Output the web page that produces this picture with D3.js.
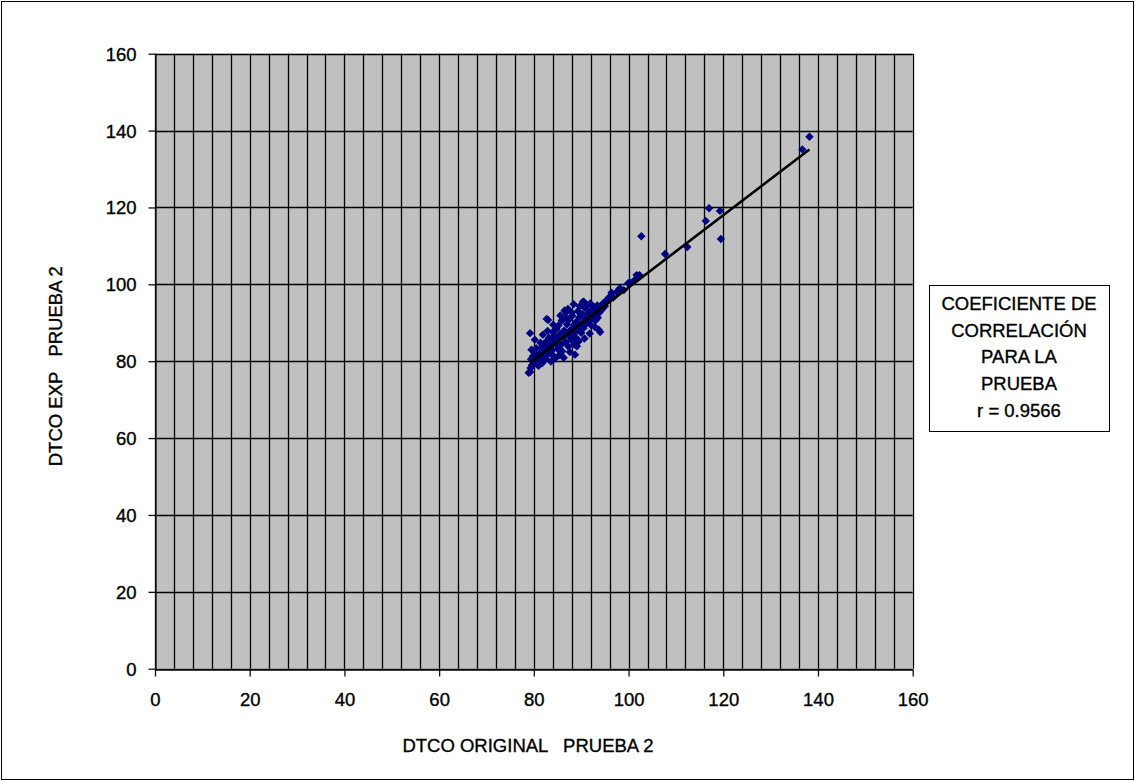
<!DOCTYPE html>
<html>
<head>
<meta charset="utf-8">
<script src="https://cdn.jsdelivr.net/npm/d3@7"></script>
<style>
  body { margin: 0; background: #fff; }
  svg text { font-family: "Liberation Sans", Arial, sans-serif; fill: #000; stroke: #000; stroke-width: 0.35px; }
</style>
</head>
<body>
<div id="chart"></div>
<script>
let dtco_points = [
    [78.9,77.0],[79.2,77.2],[79.3,78.2],[79.6,79.0],[79.4,80.5],[79.8,81.3],[80.1,82.2],[79.5,83.0],[79.2,87.3],
    [80.3,80.0],[80.6,79.2],[81.0,78.8],[80.8,81.0],[81.2,82.0],[80.5,83.4],[81.5,80.3],[81.8,79.5],[82.0,81.5],
    [81.6,83.6],[82.3,82.8],[82.5,80.6],[82.1,84.4],[82.8,83.5],[83.0,81.8],[82.7,85.2],[83.4,84.0],[83.2,86.1],
    [82.7,91.0],[83.0,90.7],[83.8,82.8],[84.2,81.3],[84.5,80.7],[83.9,85.3],[84.4,86.7],[84.0,87.6],[84.6,84.5],
    [85.0,83.2],[85.3,85.8],[84.8,88.4],[85.5,87.0],[85.2,89.3],[85.8,84.3],[86.0,82.6],[86.2,86.2],[85.9,90.6],
    [86.5,93.2],[86.8,92.7],[86.4,88.0],[86.7,85.0],[86.9,87.3],[87.0,89.6],[86.6,91.5],[87.3,83.8],[87.5,86.4],
    [87.4,90.8],[87.8,88.2],[87.9,85.5],[88.1,91.8],[88.3,87.0],[88.0,92.6],[88.5,89.4],[88.7,81.7],[88.6,84.3],
    [88.9,86.1],[89.0,90.3],[89.2,88.0],[89.3,93.0],[89.5,85.2],[89.6,91.4],[89.8,89.2],[90.0,87.4],[90.2,92.3],
    [90.3,90.0],[90.6,95.4],[90.4,95.5],[90.5,88.6],[90.8,93.8],[91.0,91.2],[91.1,89.8],[91.3,94.6],[91.5,92.5],
    [91.6,90.4],[91.9,95.0],[92.0,89.5],[92.2,93.4],[92.4,91.6],[92.6,94.2],[92.8,92.0],[93.0,90.6],[93.2,93.0],
    [93.4,94.5],[93.7,88.2],[94.0,87.6],[93.8,92.6],[94.0,94.0],[94.3,93.3],[94.6,95.0],[95.0,94.3],[95.4,95.9],
    [95.8,96.5],[96.4,97.8],[96.8,96.6],[97.5,98.0],[98.0,98.7],[98.2,99.0],[99.0,98.5],[99.9,100.3],[100.3,100.4],
    [101.2,101.0],[101.7,102.4],[101.9,101.6],[102.3,102.4],[102.7,112.5],[107.7,107.9],[112.4,109.7],[116.3,116.5],
    [117.0,119.8],[119.3,119.1],[119.5,111.8],[136.7,135.1],[138.2,138.4],
    [81.4,84.8],[82.9,87.9],[84.1,89.5],[85.6,91.9],[87.2,93.6],[88.4,94.8],[89.7,94.3],[83.6,79.9],[85.4,81.6],
    [86.3,80.9],[87.6,82.4],[89.1,83.9],[90.7,85.9],[91.8,87.2],[92.9,88.9],[93.5,91.3],[80.2,85.6],[81.9,86.9]
];

// linear trend line ends
let trend_ends = [[79.2, 79.6], [138.2, 135.1]];

let x_ticks = [0, 20, 40, 60, 80, 100, 120, 140, 160];
let y_ticks = [0, 20, 40, 60, 80, 100, 120, 140, 160];
let x_grid = d3.range(0, 161, 4);

let legend_lines = ["COEFICIENTE DE", "CORRELACIÓN", "PARA LA", "PRUEBA", "r = 0.9566"];

let width = 1135, height = 781;
let plot = {left: 155, top: 53.7, right: 912.7, bottom: 668.7};

let svg = d3.select("#chart").append("svg")
    .attr("width", width)
    .attr("height", height);

// outer frame
svg.append("rect")
    .attr("x", 1.5).attr("y", 1.5)
    .attr("width", 1132).attr("height", 778)
    .attr("fill", "#fff")
    .attr("stroke", "#000")
    .attr("stroke-width", 1);

let xScale = d3.scaleLinear().domain([0, 160]).range([plot.left, plot.right]);
let yScale = d3.scaleLinear().domain([0, 160]).range([plot.bottom, plot.top]);

// plot area
svg.append("rect")
    .attr("x", plot.left).attr("y", plot.top)
    .attr("width", plot.right - plot.left)
    .attr("height", plot.bottom - plot.top)
    .attr("fill", "#c0c0c0");

// vertical grid every 4
svg.append("g")
    .selectAll("line")
    .data(x_grid)
    .enter().append("line")
    .attr("x1", d => Math.round(xScale(d)) + 0.5)
    .attr("x2", d => Math.round(xScale(d)) + 0.5)
    .attr("y1", plot.top)
    .attr("y2", plot.bottom)
    .attr("stroke", "#000")
    .attr("stroke-width", 1.3);

// horizontal grid every 20
svg.append("g")
    .selectAll("line")
    .data(y_ticks)
    .enter().append("line")
    .attr("x1", plot.left)
    .attr("x2", plot.right)
    .attr("y1", d => Math.round(yScale(d)) + 0.5)
    .attr("y2", d => Math.round(yScale(d)) + 0.5)
    .attr("stroke", "#000")
    .attr("stroke-width", 1.3);

// axes
let xAxis = svg.append("g")
    .attr("transform", `translate(0,${Math.round(plot.bottom) + 0.5})`)
    .call(d3.axisBottom(xScale).tickValues(x_ticks).tickSize(7).tickPadding(16).tickSizeOuter(0));
let yAxis = svg.append("g")
    .attr("transform", `translate(${Math.round(plot.left) + 0.5},0)`)
    .call(d3.axisLeft(yScale).tickValues(y_ticks).tickSize(7).tickPadding(12).tickSizeOuter(0));

[xAxis, yAxis].forEach(a => {
    a.selectAll("path").attr("stroke", "#111").attr("stroke-width", 1.3);
    a.selectAll("line").attr("stroke", "#111").attr("stroke-width", 1.3);
    a.selectAll("text").style("font-size", "18.5px").attr("fill", "#000");
});
yAxis.selectAll("text").attr("dy", "0.35em");

// trend line
let line = d3.line()
    .x(d => xScale(d[0]))
    .y(d => yScale(d[1]));

// points (diamonds)
let r = 4.2;
svg.append("g")
    .selectAll("path")
    .data(dtco_points)
    .enter().append("path")
    .attr("transform", d => `translate(${xScale(d[0])},${yScale(d[1])})`)
    .attr("d", `M0,${-r}L${r},0L0,${r}L${-r},0Z`)
    .attr("fill", "#000080");

svg.append("path")
    .datum(trend_ends)
    .attr("d", line)
    .attr("fill", "none")
    .attr("stroke", "#000")
    .attr("stroke-width", 2.6);

// axis titles
svg.append("text")
    .attr("x", 528)
    .attr("y", 752)
    .attr("text-anchor", "middle")
    .style("font-size", "18.5px")
    .style("white-space", "pre")
    .text("DTCO ORIGINAL   PRUEBA 2");

svg.append("text")
    .attr("transform", `translate(62,${(plot.top + plot.bottom) / 2 + 5}) rotate(-90)`)
    .attr("text-anchor", "middle")
    .style("font-size", "18.5px")
    .style("white-space", "pre")
    .text("DTCO EXP   PRUEBA 2");

// legend box
let legend = svg.append("g");
legend.append("rect")
    .attr("x", 929.5).attr("y", 285.5)
    .attr("width", 180).attr("height", 146)
    .attr("fill", "#fff")
    .attr("stroke", "#000")
    .attr("stroke-width", 1);

legend.selectAll("text")
    .data(legend_lines)
    .enter().append("text")
    .attr("x", 1019)
    .attr("y", (d, i) => 310 + i * 26.7)
    .attr("text-anchor", "middle")
    .style("font-size", "18.5px")
    .text(d => d);
</script>
</body>
</html>
